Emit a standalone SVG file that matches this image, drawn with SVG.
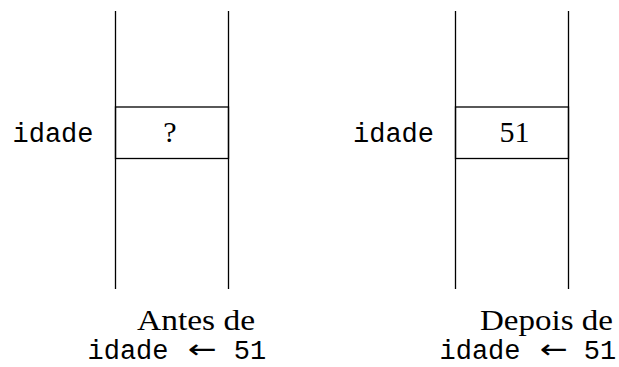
<svg xmlns="http://www.w3.org/2000/svg" width="619" height="367" viewBox="0 0 619 367">
<style>
line,rect{stroke:#000;stroke-width:1.3;fill:none}
.tt{font-family:"Liberation Mono","DejaVu Sans Mono",monospace;font-size:27px;fill:#000}
.rm{font-family:"Liberation Serif","DejaVu Serif",serif;font-size:30px;fill:#000}
.ar{font-family:"DejaVu Sans",sans-serif;font-size:26px;fill:#000}
</style>
<g id="antes">
<line x1="115.5" y1="11" x2="115.5" y2="289"/>
<line x1="228.5" y1="11" x2="228.5" y2="289"/>
<rect x="115.5" y="107" width="113" height="51.5" fill="#fff"/>
<text class="tt" x="53" y="142" text-anchor="middle">idade</text>
<text class="rm" x="170" y="142" text-anchor="middle">?</text>
<text class="rm" x="137" y="330" textLength="118" lengthAdjust="spacingAndGlyphs">Antes de</text>
<text class="tt" x="128" y="359" text-anchor="middle">idade</text>
<text class="ar" x="188" y="358" textLength="29" lengthAdjust="spacingAndGlyphs">←</text>
<text class="tt" x="250" y="359" text-anchor="middle">51</text>
</g>
<g id="depois">
<line x1="455.5" y1="11" x2="455.5" y2="289"/>
<line x1="568.5" y1="11" x2="568.5" y2="289"/>
<rect x="455.5" y="107" width="113" height="51.5" fill="#fff"/>
<text class="tt" x="393.5" y="142" text-anchor="middle">idade</text>
<text class="rm" x="514.5" y="142" text-anchor="middle">51</text>
<text class="rm" x="480" y="330" textLength="133" lengthAdjust="spacingAndGlyphs">Depois de</text>
<text class="tt" x="480" y="359" text-anchor="middle">idade</text>
<text class="ar" x="540" y="358" textLength="28" lengthAdjust="spacingAndGlyphs">←</text>
<text class="tt" x="600" y="359" text-anchor="middle">51</text>
</g>
<g id="connectors"></g>
</svg>
